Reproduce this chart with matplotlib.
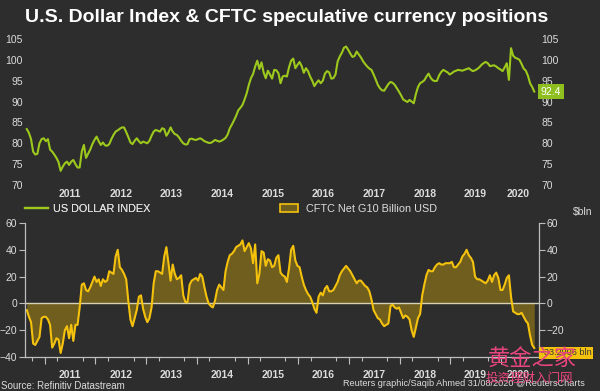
import matplotlib
matplotlib.use("Agg")
import matplotlib.pyplot as plt
from matplotlib.lines import Line2D
from matplotlib.patches import Patch
import matplotlib.transforms as mtransforms
import pandas as pd

# semi-monthly readings, late Aug 2010 .. late Aug 2020
dates = pd.date_range("2010-08-24", "2020-08-28", periods=241)

dxy = [
    83.4, 82.5, 81.0, 78.0, 77.3, 77.5, 80.0, 81.0, 81.2, 80.5,
    81.0, 78.5, 78.0, 77.3, 76.5, 75.5, 73.4, 74.4, 75.2, 75.6,
    74.8, 75.6, 76.0, 75.0, 74.2, 74.2, 78.0, 79.6, 76.5, 77.5,
    78.5, 79.8, 80.8, 81.6, 80.5, 79.6, 80.2, 79.5, 79.4, 79.8,
    81.0, 82.0, 82.8, 83.1, 83.5, 83.8, 83.8, 82.7, 81.5, 80.2,
    79.8, 80.6, 81.2, 80.5, 80.0, 80.4, 80.2, 80.0, 80.6, 81.8,
    82.8, 83.2, 83.0, 82.8, 83.6, 83.4, 81.8, 82.6, 83.8, 82.8,
    82.2, 82.0, 81.4, 80.6, 80.0, 79.7, 79.8, 81.0, 81.1, 80.9,
    80.8, 81.0, 81.2, 80.9, 80.5, 80.3, 80.1, 80.1, 80.4, 80.8,
    80.6, 80.4, 80.6, 80.9, 81.3, 82.1, 83.6, 84.5, 85.5, 86.6,
    87.9, 88.5, 89.2, 90.5, 92.0, 94.0, 95.6, 96.6, 98.4, 99.8,
    97.8, 99.4, 97.0, 95.6, 97.4, 96.5, 95.5, 97.6, 97.5, 96.8,
    94.4, 96.0, 96.2, 96.0, 98.2, 99.8, 100.3, 98.0, 98.8, 99.5,
    98.5, 96.9, 98.0, 97.3, 96.0, 95.0, 93.7, 94.5, 95.1, 94.4,
    95.0, 96.7, 97.3, 97.0, 95.5, 95.6, 96.5, 99.6, 100.8, 101.7,
    102.9, 103.2, 102.4, 101.5, 100.7, 100.9, 102.0, 101.3, 100.6, 99.7,
    99.0, 98.4, 97.9, 97.6, 96.5, 95.3, 94.0, 93.2, 92.7, 92.6,
    93.4, 94.2, 94.7, 94.5, 94.0, 93.2, 92.4, 91.5, 90.5, 90.2,
    89.9, 90.4, 90.0, 89.6, 91.8, 93.5, 94.4, 94.7, 95.1, 96.0,
    96.7, 95.7, 95.1, 94.9, 95.0, 96.3, 97.1, 97.6, 97.3, 97.0,
    96.5, 96.8, 97.2, 97.4, 97.6, 97.5, 97.4, 97.6, 97.8, 98.0,
    97.6, 97.3, 97.5, 97.8, 98.2, 98.8, 99.2, 99.5, 99.2, 98.5,
    98.6, 98.7, 98.4, 98.0, 97.7, 97.3, 98.2, 99.2, 95.2, 102.8,
    101.0, 100.5, 100.3, 100.0, 99.0, 97.9, 97.4, 96.2, 94.4, 93.5,
    92.4,
]

cftc = [
    -5, -10, -14, -30, -31, -28, -25, -11, -10, -10,
    -12, -16, -33, -30, -26, -27, -37, -30, -20, -17,
    -26, -16, -28, -16, -16, -3, 14, 15, 10, 9,
    12, 16, 20, 16, 18, 13, 18, 16, 17, 24,
    23, 22, 35, 40, 27, 25, 22, 18, 2, -12,
    -17, -11, -5, 5, 6, -4, -10, -14, -11, -3,
    15, 24, 24, 23, 22, 35, 42, 30, 17, 29,
    22, 18, 19, 21, 6, 1, 1, 14, 17, 18,
    19, 17, 22, 20, 12, 5, 0, -2, -3, 2,
    10, 14, 12, 10, 24, 31, 36, 37, 39, 42,
    43, 44, 47, 39, 42, 45, 41, 30, 44, 15,
    22, 39, 38, 28, 33, 32, 27, 28, 34, 36,
    23, 21, 20, 16, 26, 40, 43, 32, 28, 27,
    20, 14, 10, 7, 5, 1, -4, -7, 5, 8,
    6, 11, 13, 9, 9, 10, 13, 16, 21, 24,
    26, 28, 26, 24, 21, 18, 15, 17, 17, 15,
    13, 12, 9, 3, -5, -8, -11, -12, -15, -17,
    -16, -15, -2, -1, -3, -4, -3, -7, -11, -9,
    -10, -12, -20, -25, -18, -11, -8, 6, 14, 21,
    25, 24, 24, 27, 29, 30, 29, 29, 30, 30,
    30, 31, 27, 27, 29, 31, 35, 37, 40, 36,
    34, 31, 20, 18, 18, 17, 16, 15, 17, 21,
    16, 21, 23, 19, 10, 10, 14, 19, 21, 5,
    -6, -7, -8, -8, -7, -10, -13, -15, -24, -31,
    -33.2906,
]

years = list(range(2011, 2021))
dxy_ticks = [70, 75, 80, 85, 90, 95, 100, 105]
cftc_ticks = [-40, -20, 0, 20, 40, 60]

bg = "#2d2d2d"
green = "#9dc91c"
gold = "#f4c20d"
olive = "#6f5e1d"
txt = "#dcdcdc"

plt.rcParams["font.family"] = ["Liberation Sans", "DejaVu Sans"]

fig = plt.figure(figsize=(6, 3.91), dpi=100, facecolor=bg)
W, H = 600.0, 391.0
ax1 = fig.add_axes([25 / W, 1 - 187 / H, 514 / W, 152 / H], facecolor=bg)
ax2 = fig.add_axes([25 / W, 1 - 357 / H, 514 / W, 134 / H], facecolor=bg)

xmin, xmax = pd.Timestamp("2010-08-11"), pd.Timestamp("2020-10-01")
label_pos = [pd.Timestamp(f"{y}-07-01") for y in years[:-1]]
label_pos.append(pd.Timestamp("2020-01-01") + (dates[-1] - pd.Timestamp("2020-01-01")) / 2)
quarters = pd.date_range("2010-10-01", "2020-07-01", freq="QS")
year_starts = [pd.Timestamp(f"{y}-01-01") for y in years]

# ---- top: dollar index
ax1.plot(dates, dxy, color=green, lw=1.5, solid_joinstyle="round")
ax1.set_xlim(xmin, xmax)
ax1.set_ylim(69.52, 105.96)
ax1.set_yticks(dxy_ticks)
ax1.set_xticks(label_pos)
ax1.set_xticklabels([str(y) for y in years])
for s in ax1.spines.values():
    s.set_visible(False)
ax1.tick_params(axis="x", length=0, pad=1.5, labelsize=7.5, labelcolor=txt)
ax1.tick_params(axis="y", length=0, labelsize=7.5, labelcolor=txt, pad=1.5,
                left=True, right=True, labelleft=True, labelright=True)
for lab in ax1.get_xticklabels():
    lab.set_fontweight("bold")

trans1 = mtransforms.blended_transform_factory(ax1.transAxes, ax1.transData)
ax1.text(1.003, dxy[-1], f"{dxy[-1]:.1f}", transform=trans1, fontsize=7.5,
         color="white", va="center", ha="left",
         bbox=dict(boxstyle="square,pad=0.25", fc="#8fbf1f", ec="none"))

# ---- bottom: CFTC positions
ax2.fill_between(dates, 0, cftc, color=olive, lw=0)
ax2.axhline(0, color="#d8d0b4", lw=1.0)
ax2.plot(dates, cftc, color=gold, lw=1.5, solid_joinstyle="round")
ax2.set_xlim(xmin, xmax)
ax2.set_ylim(-40, 60)
ax2.set_yticks(cftc_ticks)
ax2.set_xticks(label_pos)
ax2.set_xticklabels([str(y) for y in years])
ax2.set_xticks(quarters, minor=True)
ax2.spines["top"].set_visible(False)
for k in ("left", "right", "bottom"):
    ax2.spines[k].set_color("#bdbdbd")
    ax2.spines[k].set_linewidth(0.9)
ax2.tick_params(axis="x", which="major", length=0, pad=9, labelsize=7.5, labelcolor=txt)
ax2.tick_params(axis="x", which="minor", length=3, width=0.8, color="#bdbdbd")
ax2.tick_params(axis="y", length=4, width=0.8, color="#bdbdbd", labelsize=7.5,
                labelcolor=txt, pad=1.5, left=True, right=True,
                labelleft=True, labelright=True)
for lab in ax2.get_xticklabels():
    lab.set_fontweight("bold")
# the value box covers the lowest right-hand label
ax2.yaxis.get_major_ticks()[0].label2.set_visible(False)
sec = ax2.secondary_xaxis("bottom")
sec.set_xticks(year_starts)
sec.tick_params(length=5, width=0.8, color="#bdbdbd", labelbottom=False)
sec.spines["bottom"].set_visible(False)

trans2 = mtransforms.blended_transform_factory(ax2.transAxes, ax2.transData)
ax2.annotate(f"{cftc[-1]:.4f} bln", xy=(1.003, cftc[-1]), xycoords=trans2,
             xytext=(0, -3.5), textcoords="offset points", fontsize=6.6,
             color="#3a3a3a", va="center", ha="left",
             bbox=dict(boxstyle="square,pad=0.2", fc=gold, ec="none"))

# ---- legends and texts
leg1 = fig.legend(handles=[Line2D([], [], color=green, lw=1.6)], labels=["US DOLLAR INDEX"],
                  loc="center left", bbox_to_anchor=(25 / W, 1 - 209 / H), frameon=False,
                  fontsize=7.8, handlelength=2.1, handletextpad=0.45, borderpad=0,
                  borderaxespad=0, labelcolor=txt)
leg2 = fig.legend(handles=[Patch(fc=olive, ec=gold, lw=1.2)], labels=["CFTC Net G10 Billion USD"],
                  loc="center left", bbox_to_anchor=(280 / W, 1 - 209 / H), frameon=False,
                  fontsize=7.8, handlelength=1.7, handleheight=0.8, handletextpad=0.7,
                  borderpad=0, borderaxespad=0, labelcolor=txt)
fig.add_artist(leg1)

fig.text(287 / W, 1 - 17 / H, "U.S. Dollar Index & CFTC speculative currency positions",
         ha="center", va="center", fontsize=14, fontweight="bold", color="white")
fig.text(592 / W, 1 - 212 / H, "$bln", ha="right", va="center", fontsize=7.5, color=txt)
fig.text(1 / W, 1 - 386 / H, "Source: Refinitiv Datastream", ha="left", va="center",
         fontsize=7, color=txt)
fig.text(585 / W, 1 - 383.5 / H, "Reuters graphic/Saqib Ahmed 31/08/2020 @ReutersCharts",
         ha="right", va="center", fontsize=6.6, color=txt)

# watermark
fig.text(532 / W, 1 - 359 / H, "黄金之家", ha="center", va="center", fontsize=16,
         color="#e8457f", family=["Noto Sans CJK SC", "DejaVu Sans"])
fig.text(529 / W, 1 - 378.5 / H, "投资理财入门网", ha="center", va="center", fontsize=9,
         color="#e8457f", family=["Noto Sans CJK SC", "DejaVu Sans"])

fig.savefig("out.png", dpi=100, facecolor=bg)
